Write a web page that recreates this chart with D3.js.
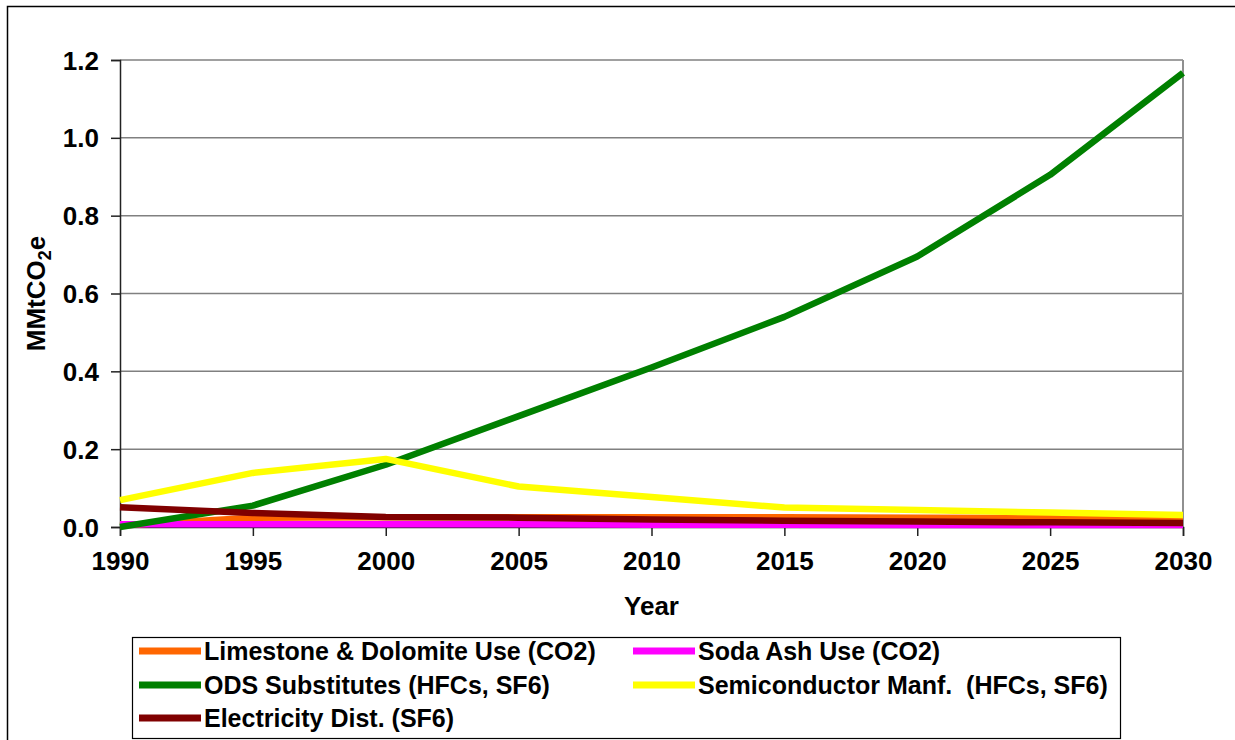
<!DOCTYPE html>
<html>
<head>
<meta charset="utf-8">
<script src="https://cdn.jsdelivr.net/npm/d3@7"></script>
<style>
  body { margin: 0; background: #fff; }
  svg { display: block; font-family: "Liberation Sans", Arial, sans-serif; font-weight: bold; }
</style>
</head>
<body>
<svg id="chart" width="1235" height="740"></svg>
<script>
const years = [1990, 1995, 2000, 2005, 2010, 2015, 2020, 2025, 2030];
const seriesNames = [
  "Limestone & Dolomite Use (CO2)",
  "Soda Ash Use (CO2)",
  "ODS Substitutes (HFCs, SF6)",
  "Semiconductor Manf.  (HFCs, SF6)",
  "Electricity Dist. (SF6)"
];
const limestone = [0.004, 0.024, 0.025, 0.025, 0.025, 0.025, 0.024, 0.023, 0.021];
const sodaAsh = [0.007, 0.007, 0.007, 0.007, 0.006, 0.006, 0.005, 0.005, 0.005];
const ods = [0.0, 0.055, 0.16, 0.285, 0.41, 0.54, 0.695, 0.905, 1.167];
const semiconductor = [0.069, 0.139, 0.175, 0.104, 0.077, 0.05, 0.044, 0.037, 0.031];
const electricity = [0.051, 0.036, 0.026, 0.024, 0.019, 0.016, 0.014, 0.012, 0.01];
const colors = ["#FF6600", "#FF00FF", "#008000", "#FFFF00", "#800000"];
const yTicks = [0, 0.2, 0.4, 0.6, 0.8, 1.0, 1.2];

const allSeries = [limestone, sodaAsh, ods, semiconductor, electricity];

const svg = d3.select("#chart");
const pL = 120, pR = 1183, pT = 60, pB = 527;

const x = d3.scaleLinear().domain([1990, 2030]).range([pL, pR]);
const y = d3.scaleLinear().domain([0, 1.2]).range([pB, pT]);

// outer border
svg.append("rect").attr("x", 7.5).attr("y", 6.5).attr("width", 1300).attr("height", 800)
  .attr("fill", "none").attr("stroke", "#000").attr("stroke-width", 1.5);

// gridlines
svg.append("g").selectAll("line").data(yTicks.filter(d => d > 0)).join("line")
  .attr("x1", pL).attr("x2", pR)
  .attr("y1", d => y(d)).attr("y2", d => y(d))
  .attr("stroke", "#808080").attr("stroke-width", 1.5);
// right frame
svg.append("line").attr("x1", pR).attr("x2", pR).attr("y1", pT).attr("y2", pB)
  .attr("stroke", "#909090").attr("stroke-width", 2);

// y axis
const yAxis = d3.axisLeft(y).tickValues(yTicks).tickFormat(d3.format(".1f")).tickSize(9).tickPadding(12);
const gy = svg.append("g").attr("transform", `translate(${pL},0)`).call(yAxis);
gy.select(".domain").attr("stroke", "#222").attr("stroke-width", 1.5);
gy.selectAll(".tick line").attr("stroke", "#222").attr("stroke-width", 1.5);
gy.selectAll("text").attr("font-size", 26).attr("font-weight", "bold").attr("fill", "#000")
  .attr("font-family", "Liberation Sans, Arial, sans-serif").attr("dy", "0.35em");

// x axis
const xAxis = d3.axisBottom(x).tickValues(years).tickFormat(d3.format("d")).tickSize(9).tickPadding(16);
const gx = svg.append("g").attr("transform", `translate(0,${pB})`).call(xAxis);
gx.select(".domain").attr("stroke", "#222").attr("stroke-width", 1.5);
gx.selectAll(".tick line").attr("stroke", "#222").attr("stroke-width", 1.5);
gx.selectAll("text").attr("font-size", 26).attr("font-weight", "bold").attr("fill", "#000")
  .attr("font-family", "Liberation Sans, Arial, sans-serif").attr("dy", "0.71em");

// axis titles
svg.append("text").attr("x", (pL + pR) / 2).attr("y", 615).attr("text-anchor", "middle")
  .attr("font-size", 26).text("Year");
const yl = svg.append("text").attr("transform", `translate(45,${(pT + pB) / 2}) rotate(-90)`)
  .attr("text-anchor", "middle").attr("font-size", 26);
yl.append("tspan").text("MMtCO");
yl.append("tspan").attr("font-size", 18).attr("dy", 6).text("2");
yl.append("tspan").attr("dy", -6).text("e");

// lines
const line = d3.line().x((d, i) => x(years[i])).y(d => y(d));
svg.append("g").selectAll("path").data(allSeries).join("path")
  .attr("d", d => line(d))
  .attr("fill", "none")
  .attr("stroke", (d, i) => colors[i])
  .attr("stroke-width", 6.5)
  .attr("stroke-linejoin", "round");

// legend
svg.append("rect").attr("x", 132.5).attr("y", 637.5).attr("width", 988).attr("height", 101)
  .attr("fill", "#fff").attr("stroke", "#000").attr("stroke-width", 1.2);
const legPos = [[139, 651], [633, 651], [139, 685], [633, 685], [139, 718]];
const lg = svg.append("g").selectAll("g").data(seriesNames).join("g")
  .attr("transform", (d, i) => `translate(${legPos[i][0]},${legPos[i][1]})`);
lg.append("line").attr("x1", 0).attr("x2", 62).attr("y1", 0).attr("y2", 0)
  .attr("stroke", (d, i) => colors[i]).attr("stroke-width", 7);
lg.append("text").attr("x", 65).attr("y", 9).attr("font-size", 25)
  .attr("xml:space", "preserve").style("white-space", "pre").text(d => d);
</script>
</body>
</html>
